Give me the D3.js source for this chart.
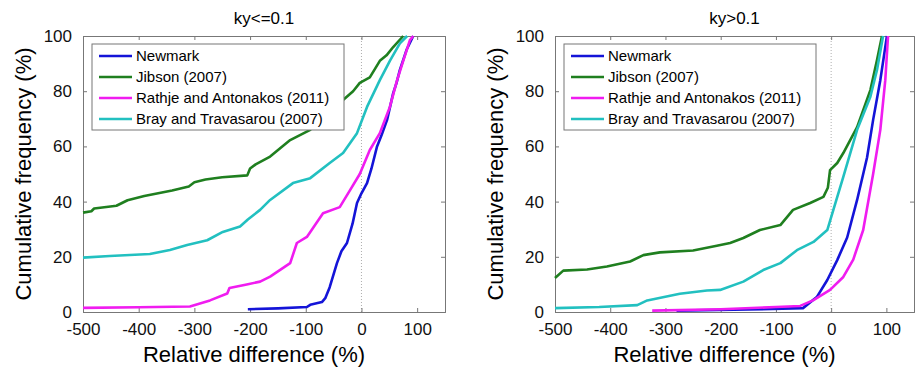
<!DOCTYPE html>
<html>
<head>
<meta charset="utf-8">
<script src="https://cdn.jsdelivr.net/npm/d3@7"></script>
<style>
  body { margin: 0; background: #fff; }
  svg { font-family: "Liberation Sans", Arial, sans-serif; }
</style>
</head>
<body>
<svg id="chart" width="915" height="373"></svg>
<script>
// series names and colours
const seriesNames = ["Newmark", "Jibson (2007)", "Rathje and Antonakos (2011)", "Bray and Travasarou (2007)"];
const seriesColors = ["#1414d8", "#1f7f1f", "#f01cf0", "#22c0c0"];
const xTicks = [-500, -400, -300, -200, -100, 0, 100];
const yTicks = [0, 20, 40, 60, 80, 100];
const titles = ["ky<=0.1", "ky>0.1"];

// ky<=0.1, [relative difference, cumulative %]
const lowNewmark = [[-204,1],[-150,1.3],[-98,1.8],[-92,2.6],[-71,3.6],[-65,5],[-57,9],[-44,17.7],[-36,22],[-26,25],[-16,32],[-8,39.5],[0,43],[10,46.7],[18,52],[28,60],[36,64],[46,69.6],[57,79.3],[63,83],[69,87.7],[81,95],[93,100]];
const lowJibson = [[-500,36],[-485,36.5],[-480,37.5],[-440,38.5],[-420,40.5],[-390,42],[-340,44],[-310,45.5],[-300,47],[-280,48],[-250,48.8],[-205,49.5],[-200,52],[-190,53.5],[-164,56.3],[-128,62.3],[-92,66],[-60,71],[-33,76.8],[-15,80],[-3,83],[15,85],[33,91],[45,93],[57,96],[75,100]];
const lowRathje = [[-500,1.5],[-400,1.7],[-308,2],[-272,4.2],[-241,6.7],[-237,8.7],[-206,10],[-182,11],[-164,12.8],[-128,17.7],[-116,25],[-98,27.2],[-69,35.8],[-39,38],[-21,44],[-3,50],[15,58.7],[33,64.8],[51,74.3],[64,84],[75,91],[87,98.5],[93,100]];
const lowBray = [[-500,19.7],[-452,20.3],[-380,21],[-344,22.5],[-313,24.3],[-277,26],[-249,29],[-218,31],[-204,33.5],[-182,37],[-164,40.6],[-123,46.7],[-92,48.5],[-57,54],[-33,57.6],[-8,64.8],[10,74.3],[33,84],[51,91],[69,97.3],[82,100]];

// ky>0.1
const highNewmark = [[-280,0.5],[-150,0.9],[-51,1.4],[-26,5.4],[-7,11.6],[11,18.8],[29,27],[47,40.6],[65,56],[76,69.6],[89,84],[101,100]];
const highJibson = [[-500,12.3],[-485,15],[-442,15.4],[-406,16.5],[-364,18.3],[-340,20.6],[-310,21.6],[-250,22.3],[-207,24],[-183,25],[-159,26.8],[-129,29.7],[-92,31.5],[-69,37],[-38,39.5],[-14,41.7],[-6,45],[-2,51.4],[11,54],[22,57.6],[47,67],[71,80.4],[83,91.3],[92,100]];
const highRathje = [[-324,0.5],[-200,1],[-100,1.8],[-56,2.2],[-32,4.3],[-2,8],[22,12.7],[40,19],[58,29.7],[76,50],[89,66],[98,84],[103,100]];
const highBray = [[-500,1.4],[-420,1.8],[-351,2.5],[-333,4.2],[-274,6.6],[-225,7.8],[-201,8],[-159,11],[-123,15.2],[-92,17.7],[-62,22.4],[-32,25.4],[-7,29.7],[4,37],[22,49],[47,66],[71,78],[83,87.7],[94,100]];

const panels = [
  { left: 83, right: 445, series: [lowNewmark, lowJibson, lowRathje, lowBray], legendX: 92 },
  { left: 555, right: 914, series: [highNewmark, highJibson, highRathje, highBray], legendX: 564 }
];

const svg = d3.select("#chart");
const plotTop = 36, plotBottom = 312;
const plain = d => String(d);   // keep ascii hyphen like the original

panels.forEach(function(p, idx) {
  let x = d3.scaleLinear().domain([-500, 150]).range([p.left, p.right]);
  let y = d3.scaleLinear().domain([0, 100]).range([plotBottom, plotTop]);
  let g = svg.append("g");

  // zero reference line
  g.append("line")
    .attr("x1", x(0)).attr("x2", x(0))
    .attr("y1", y(0)).attr("y2", y(100))
    .attr("stroke", "#999").attr("stroke-width", 0.8)
    .attr("stroke-dasharray", "1,2");

  // axes, ticks pointing inward like matlab
  let axes = [
    [d3.axisBottom(x).tickValues(xTicks).tickSize(-4).tickPadding(11).tickFormat(plain), "translate(0," + plotBottom + ")"],
    [d3.axisTop(x).tickValues(xTicks).tickSize(-4).tickFormat(""), "translate(0," + plotTop + ")"],
    [d3.axisLeft(y).tickValues(yTicks).tickSize(-4).tickPadding(11).tickFormat(plain), "translate(" + p.left + ",0)"],
    [d3.axisRight(y).tickValues(yTicks).tickSize(-4).tickFormat(""), "translate(" + p.right + ",0)"]
  ];
  axes.forEach(function(a) {
    let ag = g.append("g").attr("transform", a[1]).call(a[0]);
    ag.select(".domain").attr("stroke", "#777");
    ag.selectAll(".tick line").attr("stroke", "#777");
    ag.selectAll("text").attr("font-size", 17).attr("fill", "#111")
      .attr("font-family", "Liberation Sans, Arial, sans-serif");
  });

  let line = d3.line().x(d => x(d[0])).y(d => y(d[1]));

  p.series.forEach(function(s, i) {
    g.append("path")
      .datum(s)
      .attr("d", line)
      .attr("fill", "none")
      .attr("stroke", seriesColors[i])
      .attr("stroke-width", 2.6)
      .attr("stroke-linejoin", "round");
  });

  // title
  g.append("text")
    .attr("x", (p.left + p.right) / 2).attr("y", 24)
    .attr("text-anchor", "middle")
    .attr("font-size", 17)
    .text(titles[idx]);

  // axis labels
  g.append("text")
    .attr("x", (p.left + p.right) / 2 - 10).attr("y", 362)
    .attr("text-anchor", "middle")
    .attr("font-size", 22)
    .text("Relative difference (%)");

  g.append("text")
    .attr("transform", "translate(" + (p.left - 52) + "," + ((plotTop + plotBottom) / 2) + ") rotate(-90)")
    .attr("text-anchor", "middle")
    .attr("font-size", 22)
    .text("Cumulative frequency (%)");

  // legend
  let lg = g.append("g").attr("transform", "translate(" + p.legendX + ",44)");
  lg.append("rect")
    .attr("width", 252).attr("height", 86)
    .attr("fill", "#fff").attr("stroke", "#777");
  seriesNames.forEach(function(n, i) {
    let ly = 12 + i * 21;
    lg.append("line")
      .attr("x1", 7).attr("x2", 40).attr("y1", ly).attr("y2", ly)
      .attr("stroke", seriesColors[i]).attr("stroke-width", 2.6);
    lg.append("text")
      .attr("x", 44).attr("y", ly + 5)
      .attr("font-size", 15)
      .text(n);
  });
});
</script>
</body>
</html>
